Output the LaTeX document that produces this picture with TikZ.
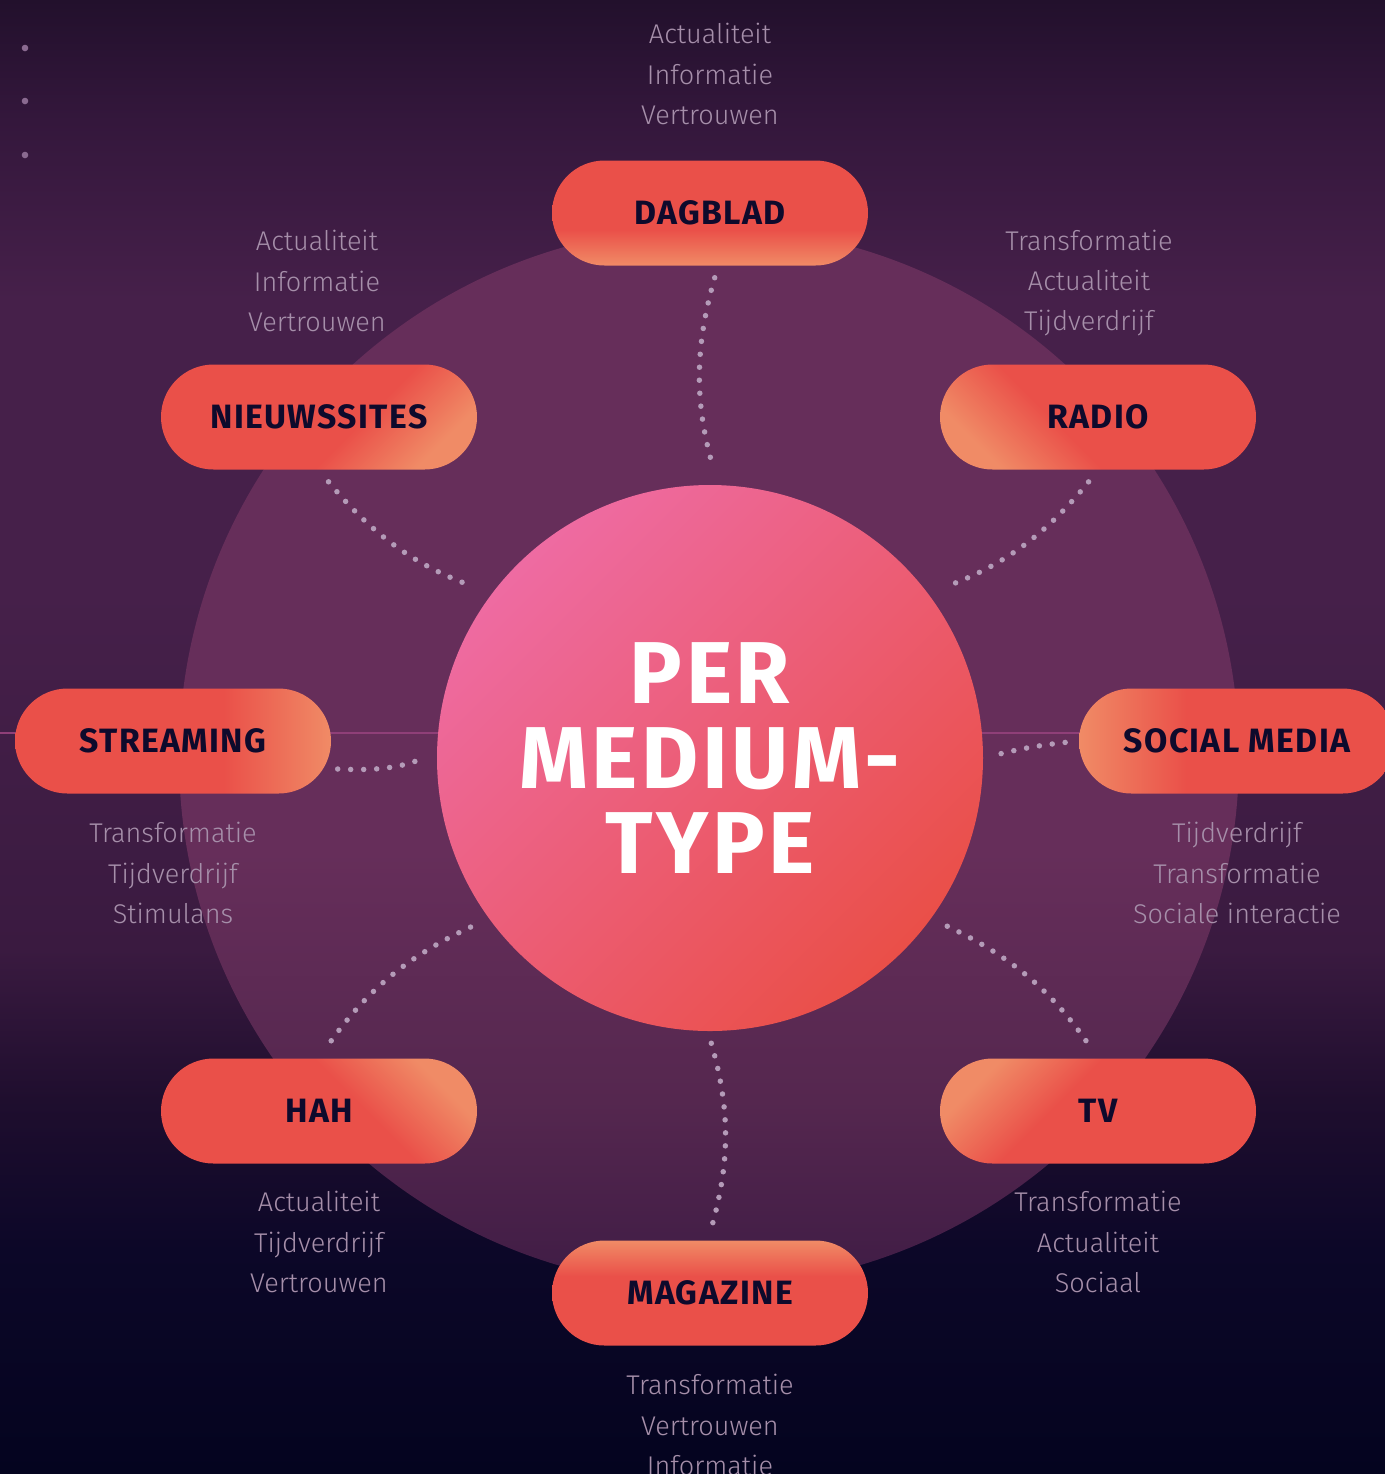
\documentclass[tikz,border=0pt]{standalone}
\usepackage{fontspec}
\setmainfont{Fira Sans}
\newfontfamily\lightfont{Fira Sans Light}
\usetikzlibrary{positioning,calc}

\definecolor{bgA}{HTML}{04041F}
\definecolor{bgB}{HTML}{0C0728}
\definecolor{bgC}{HTML}{1F0E2E}
\definecolor{bgD}{HTML}{3A1A40}
\definecolor{bgE}{HTML}{46204A}
\definecolor{bgF}{HTML}{34173C}
\definecolor{bgG}{HTML}{22102C}
\definecolor{ringA}{HTML}{662E5A}
\definecolor{ringB}{HTML}{55274F}
\definecolor{ringC}{HTML}{3F1C45}
\definecolor{hubpink}{HTML}{EE6BA2}
\definecolor{hubred}{HTML}{EA4F48}
\definecolor{pillred}{HTML}{EA5049}
\definecolor{pillorange}{HTML}{F08B66}
\definecolor{pilltext}{HTML}{0E0A2C}
\definecolor{facttext}{HTML}{A68FAA}
\definecolor{dotcol}{HTML}{B49BB8}
\definecolor{hairline}{HTML}{8F3F78}
\definecolor{deco}{HTML}{8A6A90}

\pgfdeclareverticalshading{bgshade}{100bp}{color(0bp)=(bgA); color(25bp)=(bgA); color(32.6bp)=(bgB); color(37.7bp)=(bgC); color(42.8bp)=(bgD); color(55bp)=(bgE); color(64.8bp)=(bgE); color(70.9bp)=(bgF); color(75bp)=(bgG); color(100bp)=(bgG)}
\pgfdeclareverticalshading{ringshade}{100bp}{color(0bp)=(ringC); color(25bp)=(ringC); color(33.8bp)=(ringB); color(45.6bp)=(ringA); color(100bp)=(ringA)}
\pgfdeclareverticalshading{hubshade}{100bp}{color(0bp)=(hubred); color(25bp)=(hubred); color(75bp)=(hubpink); color(100bp)=(hubpink)}
\pgfdeclareverticalshading{pillshade}{100bp}{color(0bp)=(pillorange); color(25bp)=(pillorange); color(42bp)=(pillred); color(100bp)=(pillred)}

\begin{document}
\begin{tikzpicture}[node distance=1cm,on grid,
    pill/.style={rectangle,rounded corners=5.25mm,minimum width=3.16cm,minimum height=1.05cm,
      shade,shading=pillshade,shading angle=#1,text=pilltext,
      font=\fontsize{9.6}{11}\selectfont\bfseries\addfontfeatures{LetterSpace=4}},
    facts/.style={align=center,text=facttext,inner sep=0pt,font=\lightfont\fontsize{7.7}{11.4}\selectfont},
    dots/.style={draw=dotcol,line width=0.055cm,line cap=round,dash pattern=on 0pt off 0.13cm}]
  \useasboundingbox (0,0) rectangle (13.85,-14.74);
  \shade[shading=bgshade] (0,0) rectangle (13.85,-14.74);
  \foreach \y in {0.48,1.01,1.55}
    \fill[deco] (0.25,-\y) circle (0.033);
  \shade[shading=ringshade] (7.09,-7.57) circle (5.30);
  \draw[hairline,line width=0.4pt] (0,-7.33) -- (13.85,-7.33);

  \node[circle,minimum size=5.46cm,inner sep=0pt,shade,shading=hubshade,shading angle=45,
    text=white,align=center,font=\fontsize{25}{24.2}\selectfont\bfseries\addfontfeatures{LetterSpace=4}] (hub) at (7.10,-7.58) {PER\\MEDIUM-\\TYPE};

  \node[pill=0] (dagblad) [above=5.45cm of hub] {DAGBLAD};
  \node[pill=45] (nieuwssites) [above left=3.41cm and 3.91cm of hub] {NIEUWSSITES};
  \node[pill=-45] (radio) [above right=3.41cm and 3.88cm of hub] {RADIO};
  \node[pill=90] (streaming) [above left=0.17cm and 5.37cm of hub] {STREAMING};
  \node[pill=-90] (socialmedia) [above right=0.17cm and 5.27cm of hub] {SOCIAL MEDIA};
  \node[pill=135] (hah) [below left=3.53cm and 3.91cm of hub] {HAH};
  \node[pill=-135] (tv) [below right=3.53cm and 3.88cm of hub] {TV};
  \node[pill=180] (magazine) [below=5.35cm of hub] {MAGAZINE};

  \node[facts] (dagbladfacts) [above=1.39cm of dagblad] {Actualiteit\\Informatie\\Vertrouwen};
  \node[facts] (nieuwssitesfacts) [above left=1.36cm and 0.02cm of nieuwssites] {Actualiteit\\Informatie\\Vertrouwen};
  \node[facts] (radiofacts) [above left=1.34cm and 0.09cm of radio] {Transformatie\\Actualiteit\\Tijdverdrijf};
  \node[facts] (streamingfacts) [below=1.32cm of streaming] {Transformatie\\Tijdverdrijf\\Stimulans};
  \node[facts] (socialmediafacts) [below=1.32cm of socialmedia] {Tijdverdrijf\\Transformatie\\Sociale interactie};
  \node[facts] (hahfacts) [below=1.31cm of hah] {Actualiteit\\Tijdverdrijf\\Vertrouwen};
  \node[facts] (tvfacts) [below=1.31cm of tv] {Transformatie\\Actualiteit\\Sociaal};
  \node[facts] (magazinefacts) [below=1.32cm of magazine] {Transformatie\\Vertrouwen\\Informatie};

  \path[dots]
    ([xshift=0.08cm]dagblad.south) edge[bend right=16,shorten <=0.12cm,shorten >=0.19cm] ([xshift=0.08cm]hub.north)
    (nieuwssites.south) edge[bend right=15,shorten <=0.15cm,shorten >=0.24cm] (hub.143)
    (radio.south) edge[bend left=15,shorten <=0.15cm,shorten >=0.24cm] (hub.37)
    ([shift={(0.06,-0.28)}]streaming.east) edge[bend right=12,shorten >=0.19cm] (hub.179)
    (hub.0) edge[bend left=4,shorten <=0.18cm,shorten >=0.12cm] (socialmedia.west)
    (hah.north) edge[bend left=15,shorten <=0.21cm,shorten >=0.13cm] (hub.216)
    (tv.north) edge[bend right=15,shorten <=0.21cm,shorten >=0.13cm] (hub.-36)
    ([xshift=-0.02cm]hub.south) edge[bend left=16,shorten <=0.12cm,shorten >=0.11cm] ([xshift=-0.02cm]magazine.north);
\end{tikzpicture}
\end{document}
